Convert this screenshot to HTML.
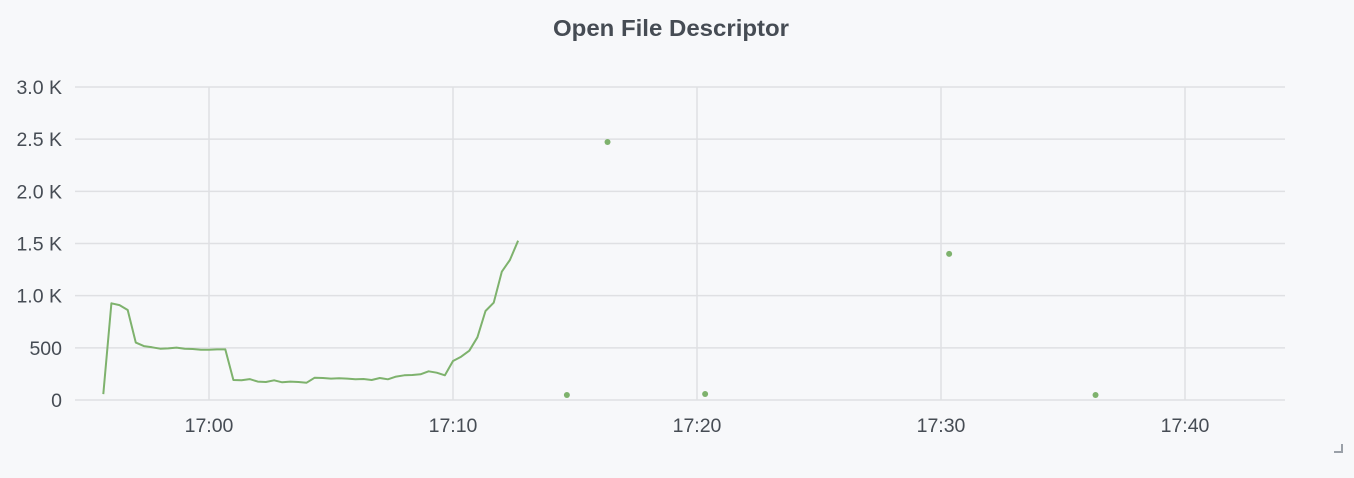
<!DOCTYPE html>
<html><head><meta charset="utf-8"><style>
html,body{margin:0;padding:0;background:#f7f8fa;width:1354px;height:478px;overflow:hidden;font-family:"Liberation Sans",sans-serif}
</style></head><body>
<svg id="chart" width="1354" height="478" xmlns="http://www.w3.org/2000/svg">
<text x="671" y="36" text-anchor="middle" font-size="23" font-weight="bold" fill="#464c54" textLength="236" lengthAdjust="spacingAndGlyphs">Open File Descriptor</text>
<g id="grid"></g><g id="yt"></g><g id="xt"></g><g id="series"></g>
<path d="M1334 452 H1342 V444" stroke="#9aa0a8" stroke-width="2" fill="none"/>
</svg>
<script>
const yTicks=[0,500,1000,1500,2000,2500,3000];
const yTickLabels=["0","500","1.0 K","1.5 K","2.0 K","2.5 K","3.0 K"];
const xTicks=[0,10,20,30,40]; // minutes after 17:00
const xTickLabels=["17:00","17:10","17:20","17:30","17:40"];
const lineStart=-260/60; // 16:55:40, minutes after 17:00
const lineStepSec=20;
const lineValues=[57,927,910,863,550,517,505,492,495,502,492,489,482,482,485,485,192,190,200,176,173,189,170,176,173,166,214,211,205,208,205,198,201,192,211,198,224,237,240,246,275,262,237,374,415,473,601,853,933,1230,1342,1527];
const dotTimes=[14+40/60,16+20/60,20+20/60,30+20/60,36+20/60];
const dotValues=[48,2473,57,1400,48];
const X0=209,PXM=24.4,Y0=400,PYV=313/3000,L=75,R=1285;
const xs=m=>X0+m*PXM, ys=v=>Y0-v*PYV;
const ns="http://www.w3.org/2000/svg";
function mk(tag,attrs,parent){const e=document.createElementNS(ns,tag);for(const k in attrs)e.setAttribute(k,attrs[k]);document.getElementById(parent).appendChild(e);return e;}
yTicks.forEach((v,i)=>{
 const g=mk('line',{x1:L,x2:R,y1:ys(v),y2:ys(v),stroke:'#dfe0e3','stroke-width':1.5},'grid');
 
 
 const t=mk('text',{x:62,y:ys(v)+7,'text-anchor':'end','font-size':19.5,fill:'#464c54'},'yt');
 t.textContent=yTickLabels[i];
 
 
});
xTicks.forEach((m,i)=>{
 const g=mk('line',{x1:xs(m),x2:xs(m),y1:87,y2:400,stroke:'#dfe0e3','stroke-width':1.5},'grid');
 
 
 const t=mk('text',{x:xs(m),y:432,'text-anchor':'middle','font-size':19.5,fill:'#464c54'},'xt');
 t.textContent=xTickLabels[i];
 
 
});
const pts=lineValues.map((v,i)=>xs(lineStart+i*lineStepSec/60).toFixed(1)+','+ys(v).toFixed(1)).join(' ');
const pl=mk('polyline',{points:pts,fill:'none',stroke:'#7eb26d','stroke-width':2,'stroke-linejoin':'round'},'series');


dotValues.forEach((v,i)=>{
 const c=mk('circle',{cx:xs(dotTimes[i]),cy:ys(v),r:3,fill:'#7eb26d'},'series');
 
 
});
</script>
</body></html>
